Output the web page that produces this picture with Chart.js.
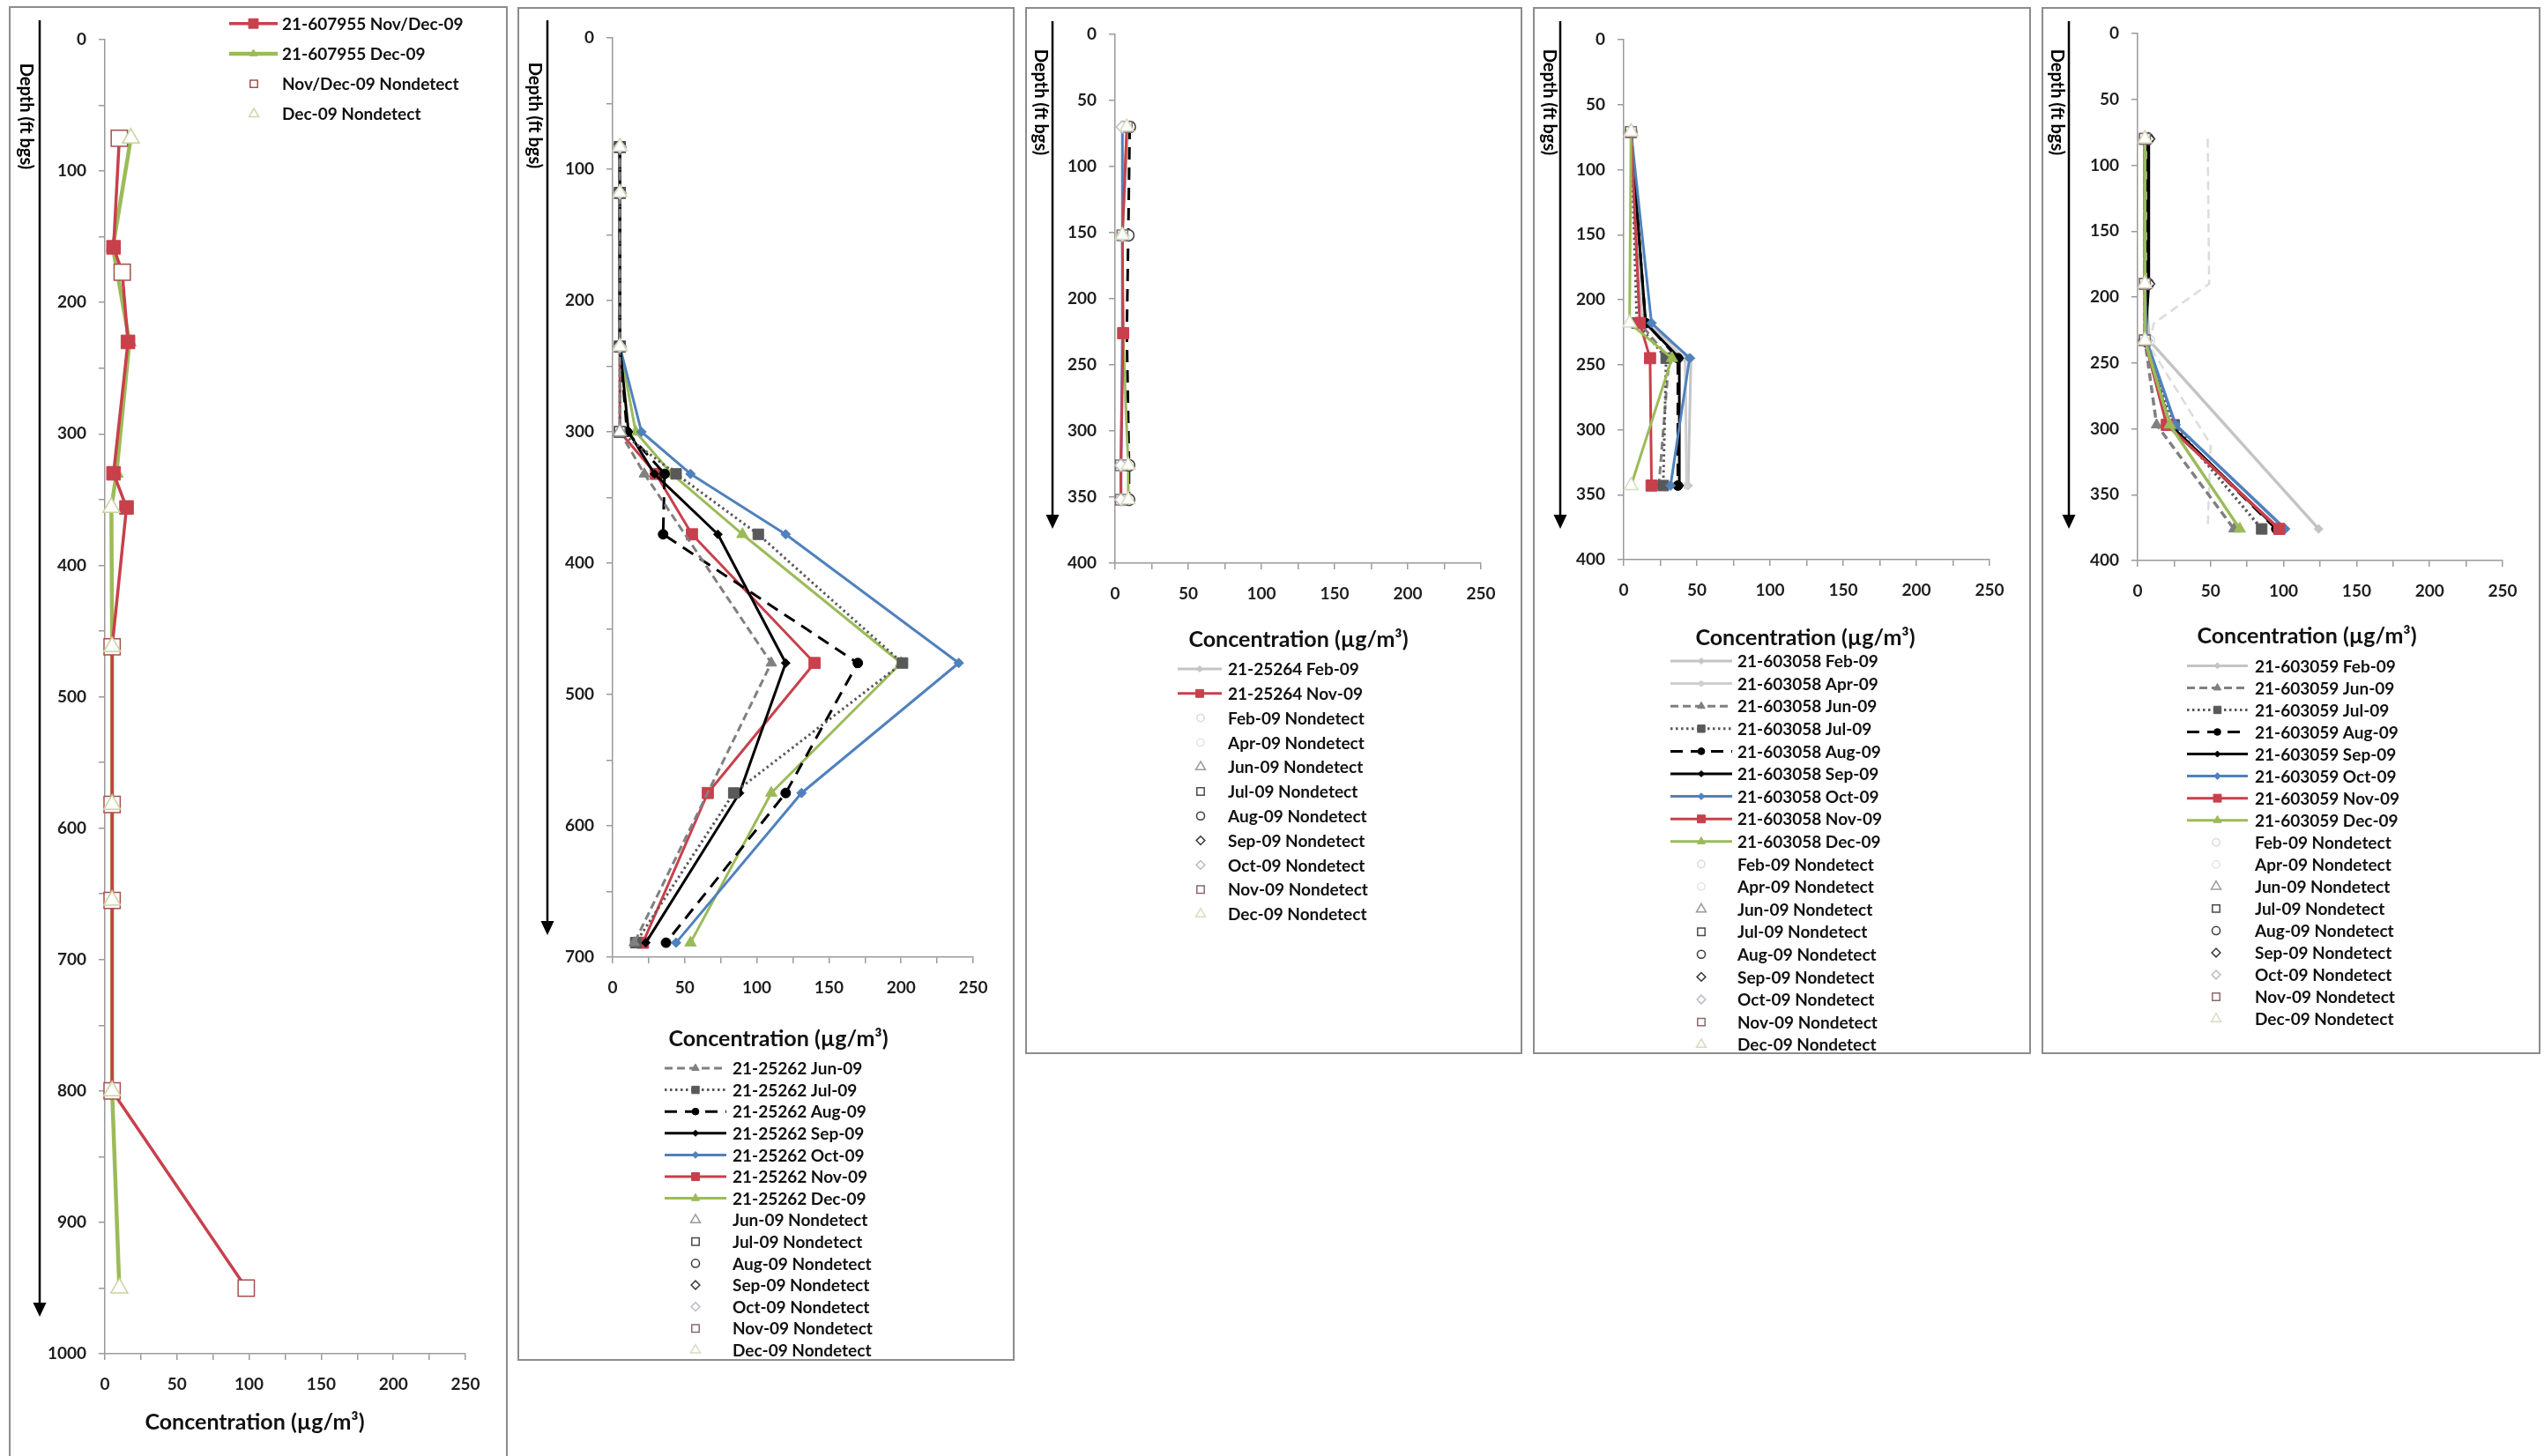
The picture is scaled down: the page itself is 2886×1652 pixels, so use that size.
<!DOCTYPE html>
<html>
<head>
<meta charset="utf-8">
<title>Concentration vs depth profiles</title>
<script src="https://cdn.jsdelivr.net/npm/chart.js@4.4.1/dist/chart.umd.min.js"></script>
<style>
  html, body { margin:0; padding:0; background:#fff; }
  body { width:2886px; height:1652px; overflow:hidden; position:relative; }
  .panel { position:absolute; border:2px solid #8c8c8c; background:#fff; overflow:hidden; }
  .panel canvas { position:absolute; left:0; top:0; }
</style>
</head>
<body>
<script>
// ================= DATA (concentration in µg/m³, depth in ft bgs) =================
const wells = ['21-607955', '21-25262', '21-25264', '21-603058', '21-603059'];
const xTicks = [0, 50, 100, 150, 200, 250];

// Panel 1 – 21-607955
const p1Depth    = [75, 158, 177, 230, 330, 356, 462, 582, 655, 800, 950];
const p1NovDec   = [10, 6, 12, 16, 6, 15, 5, 5, 5, 5, 98];
const p1NovDecND = [1, 0, 1, 0, 0, 0, 1, 1, 1, 1, 1];
const p1Dec      = [18, 5.5, null, 17, 8, 4.5, 5, 5, 5, 5, 10];
const p1DecND    = [1, 0, 0, 0, 0, 1, 1, 1, 1, 1, 1];

// Panel 2 – 21-25262
const p2Depth = [83, 118, 235, 300, 332, 378, 476, 575, 689];
const p2Jun   = [5, 5, 5, 5, 22, null, 110, null, 15];
const p2Jul   = [5, 5, 5, 5, 44, 101, 201, 84, 16];
const p2Aug   = [5, 5, 5, 10, 36, 35, 170, 120, 37];
const p2Sep   = [5, 5, 5, 11, 29, 73, 120, 88, 23];
const p2Oct   = [5, 5, 5, 20, 54, 120, 240, 131, 44];
const p2Nov   = [5, 5, 5, 5, 30, 55, 140, 66, 21];
const p2Dec   = [5, 5, 5, 16, 41, 90, 200, 110, 54];
const p2NDa   = [1, 1, 1, 1, 0, 0, 0, 0, 0];   // Jun, Jul, Nov
const p2NDb   = [1, 1, 1, 0, 0, 0, 0, 0, 0];   // Aug, Sep, Oct, Dec

// Panel 3 – 21-25264
const p3Depth = [70, 152, 226, 326, 352];
const p3Feb   = [9, 5, 5, 9, 9];
const p3Nov   = [8, 5, 5.5, 4, 4];
const p3Aug   = [10, 9, 8, 9.5, 9.5];
const p3Oct   = [5, 5, 5, 4, 4];
const p3Dec   = [8, 5, 5.5, 9, 9];
const p3ND    = [1, 1, 0, 1, 1];

// Panel 4 – 21-603058
const p4Depth = [71, 218, 245, 343];
const p4Feb   = [5, 15, 46, 44];
const p4Apr   = [5, 13, 42, 43];
const p4Jun   = [5, 11, 31, 24];
const p4Jul   = [5, 9, 29, 27];
const p4Aug   = [5, 15, 37, 37];
const p4Sep   = [5, 15, 38, 38];
const p4Oct   = [5, 19, 45, 32];
const p4Nov   = [5, 11, 18, 19];
const p4Dec   = [5, 4, 33, 5];
const p4ND    = [1, 0, 0, 0];
const p4DecND = [1, 1, 0, 1];

// Panel 5 – 21-603059
const p5Depth = [80, 190, 233, 297, 376];
const p5Feb   = [5, 5, 8, null, 124];
const p5Jun   = [5, 5, 5, 13, 66];
const p5Jul   = [5, 5, 5, 25, 85];
const p5Aug   = [7, 7, 5, 22, 95];
const p5Sep   = [7.5, 7.5, 5, 22, 96];
const p5Oct   = [5, 5, 6, 26, 101];
const p5Nov   = [5, 5, 5, 20, 97];
const p5Dec   = [5, 5, 5, 22, 70];
const p5ND    = [1, 1, 1, 0, 0];
const p5FaintDepth = [80, 190, 220, 237, 312, 376];
const p5Faint      = [48, 49, 11, 8, 50, 48];

const DEPTH_LABEL = 'Depth (ft bgs)';
const X_TITLE = 'Concentration (µg/m³)';

// ================= STYLES =================
const LINE = {
  Feb: {color:'#c4c4c4', dash:[], shape:'rectRot', r:5},
  Apr: {color:'#cfcfcf', dash:[], shape:'circle', r:4},
  Jun: {color:'#808080', dash:[9,5], shape:'triangle', r:7},
  Jul: {color:'#595959', dash:[2.5,3.5], shape:'rect', r:8.5},
  Aug: {color:'#000000', dash:[14,9], shape:'circle', r:5.5},
  Sep: {color:'#000000', dash:[], shape:'rectRot', r:5},
  Oct: {color:'#4f81bd', dash:[], shape:'rectRot', r:5.5},
  Nov: {color:'#c8404c', dash:[], shape:'rect', r:9},
  Dec: {color:'#9bbb59', dash:[], shape:'triangle', r:7.5}
};
const NDS = {
  Feb: {color:'#d4dce6', shape:'circle', r:6},
  Apr: {color:'#e4e4e4', shape:'circle', r:6},
  Jun: {color:'#9a9a9a', shape:'triangle', r:9},
  Jul: {color:'#4a4a4a', shape:'rect', r:8.5},
  Aug: {color:'#3a3a3a', shape:'circle', r:6.5},
  Sep: {color:'#3a3a3a', shape:'rectRot', r:7},
  Oct: {color:'#b8bcc8', shape:'rectRot', r:7},
  Nov: {color:'#8a6a6a', shape:'rect', r:8.5},
  Dec: {color:'#d6dcc0', shape:'triangle', r:9}
};
const FONT = 'Lato';
Chart.defaults.font.family = FONT;

function lineDS(m, depth, conc, nd, o = {}) {
  const st = LINE[m];
  const col = o.color || st.color;
  const data = [], rad = [];
  depth.forEach((d, i) => {
    if (conc[i] != null) { data.push({x: conc[i], y: d}); rad.push(nd && nd[i] ? 0 : (o.r != null ? o.r : st.r)); }
  });
  return { data, showLine: true, order: o.order || 2, clip: false,
    borderColor: col, borderWidth: o.lw || 3, borderDash: o.dash || st.dash,
    borderJoinStyle: 'round', borderCapStyle: 'butt',
    pointStyle: st.shape, pointRadius: rad, pointBackgroundColor: col,
    pointBorderColor: col, pointBorderWidth: 1 };
}
function ndDS(m, depth, conc, nd, o = {}) {
  const st = NDS[m];
  const data = [];
  depth.forEach((d, i) => { if (conc[i] != null && nd[i]) data.push({x: conc[i], y: d}); });
  return { data, showLine: false, order: 1, clip: false,
    pointStyle: o.shape || st.shape, pointRadius: o.r || st.r,
    pointBackgroundColor: '#ffffff', pointBorderColor: o.color || st.color, pointBorderWidth: 1.5 };
}

function drawShape(ctx, shape, x, y, r) {
  ctx.beginPath();
  if (shape === 'rect') { const s = r * Math.SQRT1_2; ctx.rect(x - s, y - s, 2 * s, 2 * s); }
  else if (shape === 'circle') { ctx.arc(x, y, r, 0, Math.PI * 2); }
  else if (shape === 'rectRot') { ctx.moveTo(x - r, y); ctx.lineTo(x, y - r); ctx.lineTo(x + r, y); ctx.lineTo(x, y + r); ctx.closePath(); }
  else if (shape === 'triangle') {
    let a = 0;
    for (let k = 0; k < 3; k++) { const px = x + Math.sin(a) * r, py = y - Math.cos(a) * r; if (k === 0) ctx.moveTo(px, py); else ctx.lineTo(px, py); a += 2 * Math.PI / 3; }
    ctx.closePath();
  }
}

function decoPlugin(cfg, ox, oy) {
  return {
    id: 'deco',
    afterDraw(chart) {
      const ctx = chart.ctx;
      ctx.save();
      const X = cfg.arrow[0] - ox, top = cfg.arrow[1] - oy, tip = cfg.arrow[2] - oy;
      ctx.strokeStyle = '#000'; ctx.fillStyle = '#000'; ctx.lineWidth = 2.5; ctx.setLineDash([]);
      ctx.beginPath(); ctx.moveTo(X, top); ctx.lineTo(X, tip - 12); ctx.stroke();
      ctx.beginPath(); ctx.moveTo(X - 7.5, tip - 16); ctx.lineTo(X + 7.5, tip - 16); ctx.lineTo(X, tip); ctx.closePath(); ctx.fill();
      ctx.save();
      ctx.translate(cfg.dlab[0] - ox, cfg.dlab[1] - oy); ctx.rotate(Math.PI / 2);
      ctx.font = 'bold 20px ' + FONT; ctx.textAlign = 'center'; ctx.textBaseline = 'middle';
      ctx.fillText(DEPTH_LABEL, 0, 0);
      ctx.restore();
      ctx.font = 'bold 25px ' + FONT; ctx.textAlign = 'center'; ctx.textBaseline = 'middle'; ctx.fillStyle = '#111';
      ctx.fillText(X_TITLE, cfg.title[0] - ox, cfg.title[1] - oy);
      const L = cfg.leg;
      L.items.forEach((it, i) => {
        const y = L.y0 + i * L.dy - oy;
        if (it.t === 'line') {
          const st = LINE[it.m];
          const col = it.color || st.color;
          ctx.strokeStyle = col; ctx.lineWidth = it.lw || 3; ctx.setLineDash(st.dash);
          ctx.beginPath(); ctx.moveTo(L.x0 - ox, y); ctx.lineTo(L.x1 - ox, y); ctx.stroke();
          ctx.setLineDash([]);
          ctx.fillStyle = col; ctx.strokeStyle = col; ctx.lineWidth = 1;
          drawShape(ctx, st.shape, (L.x0 + L.x1) / 2 - ox, y, (it.r || st.r) * 0.7);
          ctx.fill(); ctx.stroke();
        } else {
          const st = NDS[it.m];
          ctx.setLineDash([]);
          ctx.fillStyle = '#fff'; ctx.strokeStyle = it.color || st.color; ctx.lineWidth = 1.5;
          drawShape(ctx, it.shape || st.shape, L.mx - ox, y, st.r * 0.7);
          ctx.fill(); ctx.stroke();
        }
        ctx.fillStyle = '#111'; ctx.font = 'bold 19px ' + FONT; ctx.textAlign = 'left'; ctx.textBaseline = 'middle';
        ctx.fillText(it.text, L.tx - ox, y + 1);
      });
      ctx.restore();
    }
  };
}

function makePanel(cfg) {
  const [bl, bt, bw, bh] = cfg.box;
  const div = document.createElement('div');
  div.className = 'panel';
  div.style.left = bl + 'px'; div.style.top = bt + 'px';
  div.style.width = (bw - 4) + 'px'; div.style.height = (bh - 4) + 'px';
  const cv = document.createElement('canvas');
  const cw = bw - 4, ch = bh - 4;
  cv.width = cw; cv.height = ch;
  cv.style.width = cw + 'px'; cv.style.height = ch + 'px';
  div.appendChild(cv);
  document.body.appendChild(div);
  const ox = bl + 2, oy = bt + 2;
  const [L, R, T, B] = cfg.area;
  const axisCol = '#9a9a9a';
  const tickFont = {family: FONT, weight: 'bold', size: 19};
  new Chart(cv.getContext('2d'), {
    type: 'scatter',
    data: { datasets: cfg.datasets },
    options: {
      responsive: false, maintainAspectRatio: false, animation: false, events: [],
      layout: { padding: { left: 0, top: T - oy, right: (ox + cw) - R, bottom: 0 } },
      plugins: { legend: {display: false}, tooltip: {enabled: false} },
      scales: {
        x: {
          type: 'linear', position: 'bottom', min: xTicks[0], max: xTicks[xTicks.length - 1],
          ticks: { stepSize: 25, autoSkip: false, maxRotation: 0, minRotation: 0, padding: 16,
                   color: '#1e1e1e', font: tickFont,
                   callback: v => xTicks.includes(Math.round(v)) ? String(Math.round(v)) : '' },
          grid: { drawOnChartArea: false, drawTicks: true, tickLength: 7, color: axisCol, lineWidth: 1.5 },
          border: { display: true, color: axisCol, width: 1.5 },
          afterFit: s => { s.height = (oy + ch) - B; }
        },
        y: {
          type: 'linear', position: 'left', reverse: true, min: 0, max: cfg.yMax,
          ticks: { stepSize: 50, autoSkip: false, padding: 14, color: '#1e1e1e', font: tickFont,
                   callback: v => (Math.round(v) % cfg.yLab === 0) ? String(Math.round(v)) : '' },
          grid: { drawOnChartArea: false, drawTicks: true, tickLength: 7, color: axisCol, lineWidth: 1.5 },
          border: { display: true, color: axisCol, width: 1.5 },
          afterFit: s => { s.width = L - ox; }
        }
      }
    },
    plugins: [decoPlugin(cfg, ox, oy)]
  });
}

// ================= PANELS =================
const mo = m => m + '-09';
const lineItem = (w, m, extra = {}) => Object.assign({t: 'line', m, text: w + ' ' + mo(m)}, extra);
const ndItem = (m, extra = {}) => Object.assign({t: 'nd', m, text: mo(m) + ' Nondetect'}, extra);

// Panel 1
makePanel({
  box: [10, 7, 566, 1660], area: [119, 528, 45, 1536], yMax: 1000, yLab: 100,
  arrow: [45, 23, 1494], dlab: [29, 132], title: [289, 1614],
  leg: { y0: 26.7, dy: 34.2, x0: 260, x1: 315, mx: 288, tx: 320, items: [
    {t: 'line', m: 'Nov', text: wells[0] + ' Nov/Dec-09', lw: 3.5, r: 11},
    {t: 'line', m: 'Dec', text: wells[0] + ' Dec-09', lw: 4.5, r: 7},
    {t: 'nd', m: 'Nov', text: 'Nov/Dec-09 Nondetect', color: '#a4504c', shape: 'rect'},
    {t: 'nd', m: 'Dec', text: 'Dec-09 Nondetect', color: '#cdd6a6'}
  ]},
  datasets: [
    ndDS('Dec', p1Depth, p1Dec, p1DecND, {color: '#c8d2a0', r: 11}),
    ndDS('Nov', p1Depth, p1NovDec, p1NovDecND, {color: '#a4504c', r: 13, shape: 'rect'}),
    lineDS('Nov', p1Depth, p1NovDec, p1NovDecND, {lw: 3.5, r: 11}),
    lineDS('Dec', p1Depth, p1Dec, p1DecND, {lw: 4.5, r: 9})
  ]
});

// Panel 2
const p2Series = [['Jun', p2Jun, p2NDa], ['Jul', p2Jul, p2NDa], ['Aug', p2Aug, p2NDb], ['Sep', p2Sep, p2NDb],
                  ['Oct', p2Oct, p2NDb], ['Nov', p2Nov, p2NDa], ['Dec', p2Dec, p2NDb]];
makePanel({
  box: [587, 8, 564, 1536], area: [695, 1104, 43, 1086], yMax: 700, yLab: 100,
  arrow: [621, 23, 1061], dlab: [606, 131], title: [883, 1179],
  leg: { y0: 1212, dy: 24.6, x0: 754, x1: 824, mx: 789, tx: 831, items:
    p2Series.map(s => lineItem(wells[1], s[0])).concat(p2Series.map(s => ndItem(s[0]))) },
  datasets: [
    ...['Dec', 'Jun', 'Oct', 'Sep', 'Aug', 'Jul', 'Nov'].map(m => { const s = p2Series.find(q => q[0] === m); return ndDS(m, p2Depth, s[1], s[2]); }),
    ...p2Series.map(s => lineDS(s[0], p2Depth, s[1], s[2]))
  ]
});

// Panel 3
const p3Legend = ['Feb', 'Apr', 'Jun', 'Jul', 'Aug', 'Sep', 'Oct', 'Nov', 'Dec'];
makePanel({
  box: [1163, 8, 564, 1188], area: [1265, 1680, 39, 639], yMax: 400, yLab: 50,
  arrow: [1194, 24, 600], dlab: [1180, 116], title: [1473, 726],
  leg: { y0: 759, dy: 27.8, x0: 1336, x1: 1386, mx: 1362, tx: 1393, items:
    [lineItem(wells[2], 'Feb'), lineItem(wells[2], 'Nov')].concat(p3Legend.map(m => ndItem(m))) },
  datasets: [
    ndDS('Dec', p3Depth, p3Dec, p3ND),
    ndDS('Oct', p3Depth, p3Oct, p3ND),
    ndDS('Nov', p3Depth, p3Nov, p3ND),
    ndDS('Aug', p3Depth, p3Aug, p3ND),
    ndDS('Feb', p3Depth, p3Feb, p3ND),
    lineDS('Nov', p3Depth, p3Nov, p3ND),
    lineDS('Dec', p3Depth, p3Dec, p3ND, {lw: 2.5, r: 0}),
    lineDS('Oct', p3Depth, p3Oct, p3ND, {r: 0}),
    lineDS('Aug', p3Depth, p3Aug, p3ND, {r: 0}),
    lineDS('Feb', p3Depth, p3Feb, p3ND, {r: 0})
  ]
});

// Panel 4
const p4Series = [['Feb', p4Feb, p4ND], ['Apr', p4Apr, p4ND], ['Jun', p4Jun, p4ND], ['Jul', p4Jul, p4ND], ['Aug', p4Aug, p4ND],
                  ['Sep', p4Sep, p4ND], ['Oct', p4Oct, p4ND], ['Nov', p4Nov, p4ND], ['Dec', p4Dec, p4DecND]];
makePanel({
  box: [1739, 8, 565, 1188], area: [1842, 2257, 45, 635], yMax: 400, yLab: 50,
  arrow: [1770, 24, 600], dlab: [1757, 116], title: [2048, 724],
  leg: { y0: 750, dy: 25.6, x0: 1895, x1: 1965, mx: 1930, tx: 1971, items:
    p4Series.map(s => lineItem(wells[3], s[0])).concat(p4Series.map(s => ndItem(s[0]))) },
  datasets: [
    ...p4Series.slice().reverse().map(s => ndDS(s[0], p4Depth, s[1], s[2])),
    ...p4Series.slice().reverse().map(s => lineDS(s[0], p4Depth, s[1], s[2]))
  ]
});

// Panel 5
const p5Series = [['Feb', p5Feb, p5ND], ['Jun', p5Jun, p5ND], ['Jul', p5Jul, p5ND], ['Aug', p5Aug, p5ND],
                  ['Sep', p5Sep, p5ND], ['Oct', p5Oct, p5ND], ['Nov', p5Nov, p5ND], ['Dec', p5Dec, p5ND]];
const p5NDLegend = ['Feb', 'Apr', 'Jun', 'Jul', 'Aug', 'Sep', 'Oct', 'Nov', 'Dec'];
makePanel({
  box: [2316, 8, 566, 1188], area: [2425, 2839, 38, 636], yMax: 400, yLab: 50,
  arrow: [2347, 24, 600], dlab: [2333, 116], title: [2617, 722],
  leg: { y0: 755.4, dy: 25.04, x0: 2481, x1: 2550, mx: 2514, tx: 2558, items:
    p5Series.map(s => lineItem(wells[4], s[0])).concat(p5NDLegend.map(m => ndItem(m))) },
  datasets: [
    ...p5Series.slice().reverse().map(s => ndDS(s[0], p5Depth, s[1], s[2])),
    ...p5Series.slice().reverse().map(s => lineDS(s[0], p5Depth, s[1], s[2], {lw: 3.5})),
    lineDS('Jun', p5FaintDepth, p5Faint, null, {color: '#dcdcdc', lw: 2.5, r: 0, dash: [10, 6], order: 3})
  ]
});
</script>
</body>
</html>
